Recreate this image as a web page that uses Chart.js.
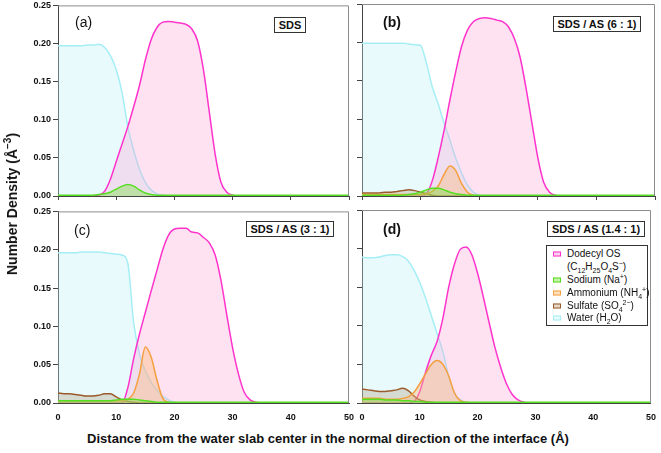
<!DOCTYPE html>
<html>
<head>
<meta charset="utf-8">
<script src="https://cdn.jsdelivr.net/npm/chart.js@4.4.1/dist/chart.umd.min.js"></script>
<style>
  html, body { margin:0; padding:0; background:#fff; }
  body { width:661px; height:453px; position:relative; overflow:hidden; font-family:"Liberation Sans", Arial, sans-serif; color:#111; }
  .cv { position:absolute; }
  .plabel { position:absolute; font-size:14px; line-height:14px; }
  .tag { position:absolute; border:1.3px solid #333; font-weight:bold; font-size:11px; line-height:14px; text-align:center; background:#fff; box-sizing:border-box; }
  #ytitle { position:absolute; left:12px; top:204px; transform:translate(-50%,-50%) rotate(-90deg); white-space:nowrap; font-weight:bold; font-size:14px; }
  #xtitle { position:absolute; left:328px; top:438px; transform:translate(-50%,-50%); white-space:nowrap; font-weight:bold; font-size:13px; }
  #legend { position:absolute; left:546px; top:245px; width:102px; height:81px; border:1.3px solid #333; background:#fff; box-sizing:border-box; font-size:10px; }
  #legend .row { position:absolute; left:20px; white-space:nowrap; line-height:12px; transform:translateY(-50%); }
  #legend .sw { position:absolute; left:6px; width:8px; height:5px; border:1.5px solid; box-sizing:border-box; transform:translateY(-50%); }
  sub, sup { font-size:7px; line-height:0; }
</style>
</head>
<body>
<canvas id="ca" class="cv" width="352" height="208" style="left:0px;top:-2px"></canvas>
<canvas id="cb" class="cv" width="309" height="208" style="left:352px;top:-2px"></canvas>
<canvas id="cc" class="cv" width="362" height="221" style="left:0px;top:204px"></canvas>
<canvas id="cd" class="cv" width="309" height="221" style="left:352px;top:204px"></canvas>

<div class="plabel" style="left:75px;top:15px;">(a)</div>
<div class="plabel" style="left:383px;top:15px;font-weight:bold;">(b)</div>
<div class="plabel" style="left:74px;top:223px;">(c)</div>
<div class="plabel" style="left:383px;top:222px;font-weight:bold;">(d)</div>

<div class="tag" style="left:274px;top:17px;width:32px;height:16px;">SDS</div>
<div class="tag" style="left:553px;top:16px;width:88px;height:16px;">SDS / AS (6 : 1)</div>
<div class="tag" style="left:246px;top:221px;width:88px;height:16px;">SDS / AS (3 : 1)</div>
<div class="tag" style="left:547px;top:221px;width:98px;height:16px;">SDS / AS (1.4 : 1)</div>

<div id="legend">
  <div class="sw" style="top:8px;border-color:#ff33cc;background:#ffd0ee;"></div>
  <div class="row" style="top:8px;">Dodecyl OS</div>
  <div class="row" style="top:21px;">(C<sub>12</sub>H<sub>25</sub>O<sub>4</sub>S<sup>−</sup>)</div>
  <div class="sw" style="top:34px;border-color:#55dd22;background:#c6f3a8;"></div>
  <div class="row" style="top:34px;">Sodium (Na<sup>+</sup>)</div>
  <div class="sw" style="top:47px;border-color:#f5a040;background:#fde0bd;"></div>
  <div class="row" style="top:47px;">Ammonium (NH<sub>4</sub><sup>+</sup>)</div>
  <div class="sw" style="top:60px;border-color:#9a5a2a;background:#e6d9c8;"></div>
  <div class="row" style="top:60px;">Sulfate (SO<sub>4</sub><sup>2−</sup>)</div>
  <div class="sw" style="top:72px;border-color:#a6eef5;background:#e6fbfd;"></div>
  <div class="row" style="top:72px;">Water (H<sub>2</sub>O)</div>
</div>

<div id="ytitle">Number Density (Å<sup style="font-size:10px;line-height:0;">−3</sup>)</div>
<div id="xtitle">Distance from the water slab center in the normal direction of the interface (Å)</div>

<script>
// ---- data (distance in Å, number density in Å^-3) ----
const distance = [0,1,2,3,4,5,6,7,8,9,10,11,12,13,14,15,16,17,18,19,20,21,22,23,24,25,26,27,28,29,30,31,32,33,34,35,40,45,50];
const xTicks = [0,10,20,30,40,50];
const yTicks = [0,0.05,0.10,0.15,0.20,0.25];
const seriesNames = ["Dodecyl OS (C12H25O4S−)","Sodium (Na+)","Ammonium (NH4+)","Sulfate (SO4 2−)","Water (H2O)"];

// (a) SDS
const dodecylA = [0,0,0,0,0,0,0,0.001,0.006,0.022,0.045,0.068,0.091,0.117,0.145,0.178,0.205,0.221,0.228,0.229,0.228,0.227,0.225,0.219,0.203,0.165,0.11,0.055,0.018,0.005,0.001,0,0,0,0,0,0,0,0];
const sodiumA  = [0.001,0.001,0.001,0.001,0.001,0.001,0.001,0.002,0.003,0.005,0.009,0.013,0.015,0.013,0.008,0.004,0.002,0.001,0.001,0.001,0.001,0.001,0.001,0.001,0.001,0.001,0.001,0.001,0.001,0.001,0.001,0.001,0.001,0.001,0.001,0.001,0.001,0.001,0.001];
const waterA   = [0.197,0.197,0.197,0.197,0.197,0.198,0.198,0.199,0.195,0.184,0.166,0.136,0.091,0.06,0.035,0.018,0.008,0.003,0.001,0,0,0,0,0,0,0,0,0,0,0,0,0,0,0,0,0,0,0,0];

// (b) SDS / AS (6 : 1)
const dodecylB = [0,0,0,0,0,0,0,0,0,0,0,0.003,0.02,0.05,0.085,0.125,0.162,0.195,0.216,0.227,0.231,0.232,0.231,0.229,0.227,0.22,0.205,0.18,0.14,0.095,0.05,0.018,0.005,0.001,0,0,0,0,0];
const sodiumB  = [0.001,0.001,0.001,0.001,0.001,0.001,0.001,0.001,0.002,0.003,0.005,0.008,0.01,0.01,0.008,0.005,0.003,0.002,0.001,0.001,0.001,0.001,0.001,0.001,0.001,0.001,0.001,0.001,0.001,0.001,0.001,0.001,0.001,0.001,0.001,0.001,0.001,0.001,0.001];
const ammoniumB= [0.002,0.002,0.002,0.002,0.002,0.002,0.002,0.002,0.002,0.002,0.002,0.003,0.006,0.013,0.028,0.039,0.033,0.016,0.005,0.001,0,0,0,0,0,0,0,0,0,0,0,0,0,0,0,0,0,0,0];
const sulfateB = [0.004,0.004,0.004,0.004,0.005,0.005,0.006,0.007,0.008,0.007,0.005,0.003,0.001,0,0,0,0,0,0,0,0,0,0,0,0,0,0,0,0,0,0,0,0,0,0,0,0,0,0];
const waterB   = [0.199,0.199,0.199,0.199,0.199,0.199,0.199,0.199,0.198,0.197,0.196,0.173,0.142,0.12,0.095,0.073,0.049,0.03,0.014,0.005,0.001,0,0,0,0,0,0,0,0,0,0,0,0,0,0,0,0,0,0];

// (c) SDS / AS (3 : 1)
const dodecylC = [0,0,0,0,0,0,0,0,0,0,0,0,0.02,0.058,0.09,0.118,0.146,0.173,0.2,0.219,0.227,0.228,0.228,0.223,0.222,0.216,0.209,0.193,0.16,0.115,0.072,0.038,0.014,0.004,0.001,0,0,0,0];
const sodiumC  = [0.003,0.003,0.003,0.003,0.003,0.003,0.003,0.003,0.003,0.003,0.004,0.005,0.005,0.005,0.004,0.003,0.002,0.001,0.001,0.001,0.001,0.001,0.001,0.001,0.001,0.001,0.001,0.001,0.001,0.001,0.001,0.001,0.001,0.001,0.001,0.001,0.001,0.001,0.001];
const ammoniumC= [0.003,0.003,0.003,0.003,0.003,0.003,0.003,0.003,0.003,0.003,0.003,0.003,0.005,0.013,0.038,0.073,0.06,0.03,0.006,0.001,0,0,0,0,0,0,0,0,0,0,0,0,0,0,0,0,0,0,0];
const sulfateC = [0.013,0.012,0.012,0.011,0.010,0.009,0.009,0.010,0.012,0.012,0.008,0.004,0.002,0.001,0,0,0,0,0,0,0,0,0,0,0,0,0,0,0,0,0,0,0,0,0,0,0,0,0];
const waterC   = [0.196,0.196,0.196,0.196,0.197,0.197,0.197,0.197,0.196,0.195,0.194,0.193,0.182,0.105,0.064,0.042,0.027,0.017,0.009,0.004,0.001,0,0,0,0,0,0,0,0,0,0,0,0,0,0,0,0,0,0];

// (d) SDS / AS (1.4 : 1)
const dodecylD = [0,0,0,0,0,0,0,0,0,0.002,0.015,0.04,0.062,0.08,0.11,0.15,0.18,0.199,0.202,0.192,0.168,0.137,0.104,0.072,0.046,0.025,0.011,0.004,0.001,0,0,0,0,0,0,0,0,0,0];
const sodiumD  = [0.005,0.005,0.005,0.005,0.004,0.004,0.004,0.003,0.003,0.002,0.002,0.001,0.001,0.001,0.001,0.001,0.001,0.001,0.001,0.001,0.001,0.001,0.001,0.001,0.001,0.001,0.001,0.001,0.001,0.001,0.001,0.001,0.001,0.001,0.001,0.001,0.001,0.001,0.001];
const ammoniumD= [0.006,0.006,0.006,0.006,0.005,0.005,0.005,0.006,0.008,0.014,0.025,0.038,0.05,0.055,0.05,0.035,0.013,0.003,0.001,0,0,0,0,0,0,0,0,0,0,0,0,0,0,0,0,0,0,0,0];
const sulfateD = [0.018,0.017,0.016,0.015,0.015,0.016,0.017,0.019,0.016,0.009,0.004,0.002,0.001,0,0,0,0,0,0,0,0,0,0,0,0,0,0,0,0,0,0,0,0,0,0,0,0,0,0];
const waterD   = [0.189,0.188,0.188,0.189,0.191,0.192,0.192,0.19,0.184,0.172,0.156,0.136,0.113,0.09,0.066,0.035,0.013,0.004,0.001,0,0,0,0,0,0,0,0,0,0,0,0,0,0,0,0,0,0,0,0];

// ---- styles ----
const STY = {
  dodecyl: { line:'#ff33cc', fill:'rgba(255,150,210,0.28)' },
  sodium:  { line:'#55dd22', fill:'rgba(130,225,80,0.45)' },
  ammonium:{ line:'#f5a040', fill:'rgba(250,185,120,0.40)' },
  sulfate: { line:'#9a5a2a', fill:'rgba(170,140,100,0.28)' },
  water:   { line:'#a6eef5', fill:'rgba(185,240,246,0.32)' }
};

function ds(name, key, vals) {
  return {
    label: name,
    data: distance.map((x, i) => ({ x: x, y: vals[i] })),
    borderColor: STY[key].line,
    backgroundColor: STY[key].fill,
    borderWidth: 1.5,
    pointRadius: 0,
    fill: 'origin',
    cubicInterpolationMode: 'monotone'
  };
}

const framePlugin = {
  id: 'frame',
  afterDatasetsDraw(chart) {
    const a = chart.chartArea, c = chart.ctx;
    c.save();
    c.strokeStyle = '#8c8c8c';
    c.lineWidth = 1;
    c.beginPath();
    c.moveTo(a.left, a.top + 0.5);
    c.lineTo(a.right - 0.5, a.top + 0.5);
    c.lineTo(a.right - 0.5, a.bottom);
    c.stroke();
    c.restore();
  }
};

function makePanel(id, datasets, opt) {
  const tickFont = { family: '"Liberation Sans", Arial, sans-serif', size: 9, weight: 'bold' };
  new Chart(document.getElementById(id), {
    type: 'line',
    data: { datasets: datasets },
    plugins: [framePlugin],
    options: {
      responsive: false,
      animation: false,
      events: [],
      layout: { padding: { top: 6, right: opt.padRight, left: 0, bottom: 0 } },
      plugins: { legend: { display: false }, tooltip: { enabled: false } },
      scales: {
        x: {
          type: 'linear', min: 0, max: 50,
          afterBuildTicks: s => { s.ticks = xTicks.map(v => ({ value: v })); },
          ticks: { display: opt.xLabels, font: tickFont, color: '#111', padding: 5, maxRotation: 0, callback: v => String(v) },
          grid: { drawOnChartArea: false, drawTicks: true, tickLength: 4, tickColor: opt.xLabels ? 'rgba(0,0,0,0)' : '#444', lineWidth: 1 },
          border: { display: true, color: '#444', width: 1 },
          afterFit: s => { s.height = opt.xHeight; }
        },
        y: {
          type: 'linear', min: 0, max: 0.25,
          afterBuildTicks: s => { s.ticks = yTicks.map(v => ({ value: v })); },
          ticks: { display: opt.yLabels, font: tickFont, color: '#111', padding: 2, callback: v => Number(v).toFixed(2) },
          grid: { drawOnChartArea: false, drawTicks: true, tickLength: 5, tickColor: '#444', lineWidth: 1 },
          border: { display: true, color: '#444', width: 1 },
          afterFit: s => { s.width = opt.yWidth; }
        }
      }
    }
  });
}

makePanel('ca', [
  ds(seriesNames[1], 'sodium', sodiumA),
  ds(seriesNames[0], 'dodecyl', dodecylA),
  ds(seriesNames[4], 'water', waterA)
], { xLabels:false, yLabels:true, xHeight:10, yWidth:58, padRight:3 });

makePanel('cb', [
  ds(seriesNames[1], 'sodium', sodiumB),
  ds(seriesNames[2], 'ammonium', ammoniumB),
  ds(seriesNames[3], 'sulfate', sulfateB),
  ds(seriesNames[0], 'dodecyl', dodecylB),
  ds(seriesNames[4], 'water', waterB)
], { xLabels:false, yLabels:false, xHeight:10, yWidth:10, padRight:6 });

makePanel('cc', [
  ds(seriesNames[1], 'sodium', sodiumC),
  ds(seriesNames[2], 'ammonium', ammoniumC),
  ds(seriesNames[3], 'sulfate', sulfateC),
  ds(seriesNames[0], 'dodecyl', dodecylC),
  ds(seriesNames[4], 'water', waterC)
], { xLabels:true, yLabels:true, xHeight:22, yWidth:58, padRight:13 });

makePanel('cd', [
  ds(seriesNames[1], 'sodium', sodiumD),
  ds(seriesNames[2], 'ammonium', ammoniumD),
  ds(seriesNames[3], 'sulfate', sulfateD),
  ds(seriesNames[0], 'dodecyl', dodecylD),
  ds(seriesNames[4], 'water', waterD)
], { xLabels:true, yLabels:false, xHeight:22, yWidth:10, padRight:6 });
</script>
</body>
</html>
